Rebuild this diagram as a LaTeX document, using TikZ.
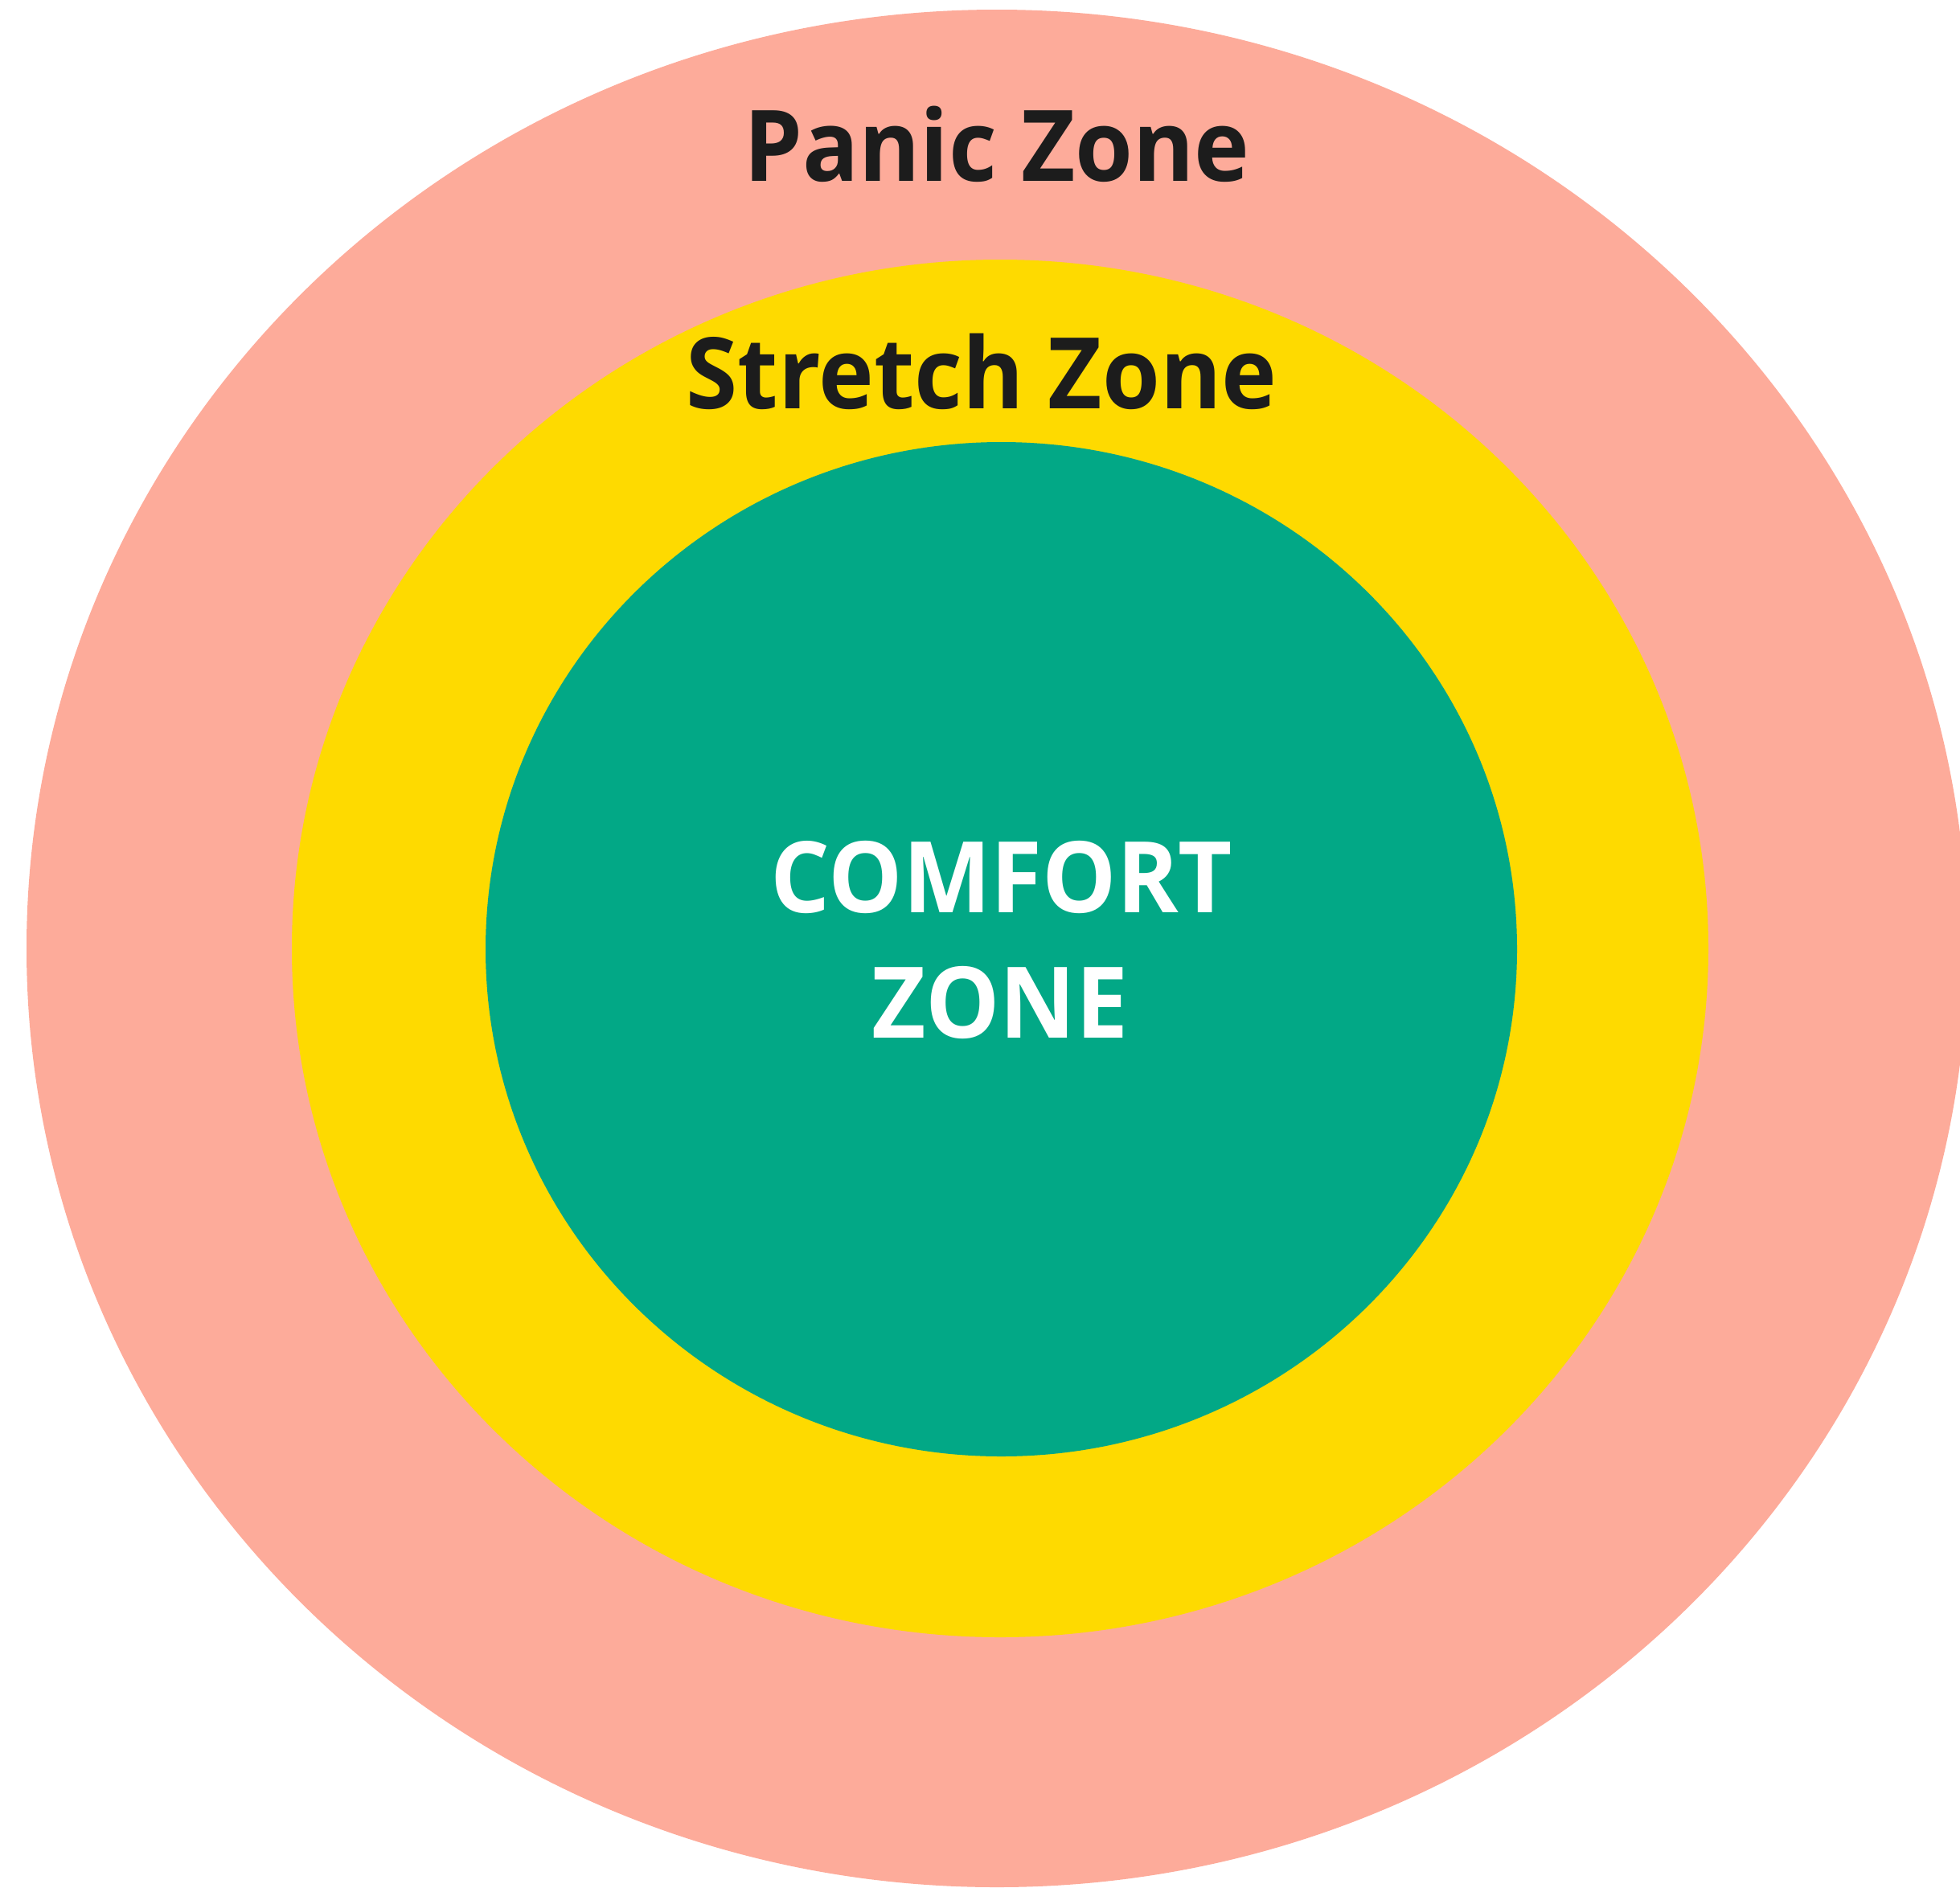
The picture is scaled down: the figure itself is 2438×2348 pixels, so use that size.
\documentclass[tikz,border=0pt]{standalone}
\usepackage{fontspec}
\setmainfont{Open Sans}[FakeStretch=0.945]
\definecolor{panic}{HTML}{FDAB9A}
\definecolor{stretch}{HTML}{FEDA00}
\definecolor{comfort}{HTML}{02A886}
\definecolor{ink}{HTML}{1C1C1C}
\begin{document}
\begin{tikzpicture}[x=1pt,y=-1pt,
  lbl/.style={anchor=base,inner sep=0pt,font=\fontsize{123}{148}\selectfont\bfseries}]
\useasboundingbox (0,0) rectangle (2438,2348);
\fill[panic] (1240,1180) ellipse [x radius=1207, y radius=1168];
\fill[stretch] (1244,1180) ellipse [x radius=881, y radius=857];
\fill[comfort] (1245.5,1181) ellipse [x radius=641.5, y radius=631];
\node[lbl,text=ink] (panic) at (1240,225) {Panic Zone};
\node[lbl,text=ink] (stretch) at (1221,508) {Stretch Zone};
\node[lbl,text=white] (comfort1) at (1246,1135) {COMFORT};
\node[lbl,text=white] (comfort2) at (1244,1291) {ZONE};
\end{tikzpicture}
\end{document}
